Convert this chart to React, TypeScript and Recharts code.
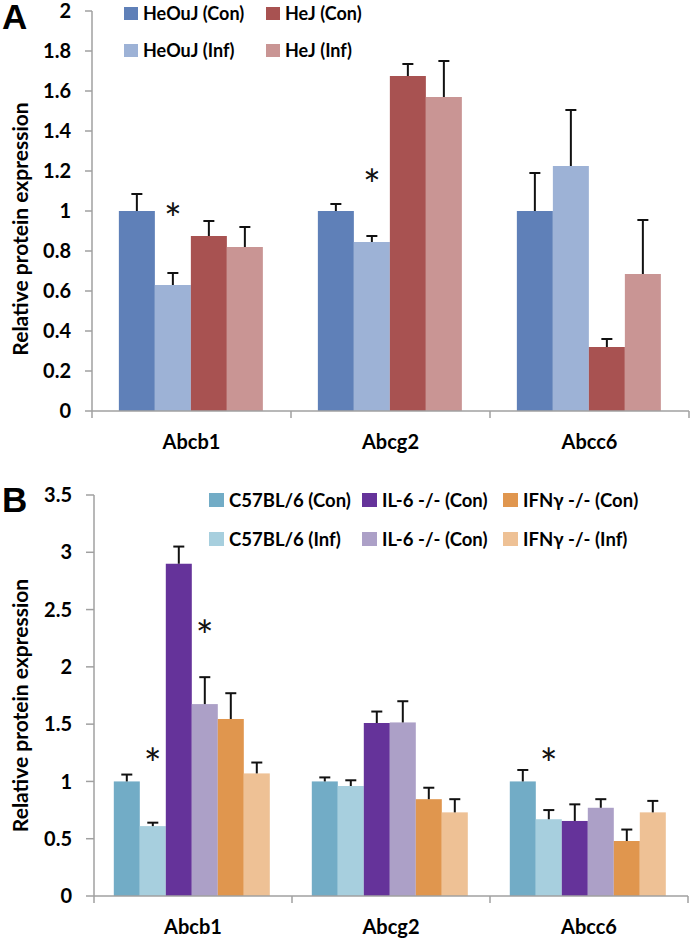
import React from 'react';
import { BarChart, Bar, XAxis, YAxis, Legend } from 'recharts';

const FONT = 'Lato, "Open Sans", sans-serif';
const AXIS = '#A0A0A0';

const categories = ['Abcb1', 'Abcg2', 'Abcc6'];

// Panel A values (mean) and upper error (SE)
const heOuJCon = [1.0, 1.0, 1.0];
const heOuJConErr = [0.085, 0.035, 0.19];
const heOuJInf = [0.63, 0.845, 1.225];
const heOuJInfErr = [0.06, 0.03, 0.28];
const heJCon = [0.875, 1.675, 0.32];
const heJConErr = [0.075, 0.06, 0.04];
const heJInf = [0.82, 1.57, 0.685];
const heJInfErr = [0.1, 0.18, 0.27];
const starsA_heOuJInf = [1.0, 1.17, null];
const yTicksA = [0, 0.2, 0.4, 0.6, 0.8, 1, 1.2, 1.4, 1.6, 1.8, 2];
const legendOrderA = ['heOuJCon', 'heOuJInf', 'heJCon', 'heJInf'];

// Panel B values
const c57Con = [1.0, 1.0, 1.0];
const c57ConErr = [0.06, 0.035, 0.1];
const c57Inf = [0.61, 0.96, 0.67];
const c57InfErr = [0.03, 0.05, 0.08];
const il6Con = [2.9, 1.51, 0.655];
const il6ConErr = [0.15, 0.1, 0.145];
const il6Con2 = [1.675, 1.515, 0.77];
const il6Con2Err = [0.235, 0.185, 0.075];
const ifnCon = [1.545, 0.845, 0.48];
const ifnConErr = [0.225, 0.1, 0.1];
const ifnInf = [1.07, 0.73, 0.73];
const ifnInfErr = [0.095, 0.115, 0.1];
const starsB_c57Inf = [1.22, null, 1.22];
const starsB_il6Con2 = [2.34, null, null];
const yTicksB = [0, 0.5, 1, 1.5, 2, 2.5, 3, 3.5];
const legendOrderB = ['c57Con', 'c57Inf', 'il6Con', 'il6Con2', 'ifnCon', 'ifnInf'];

const dataA = categories.map((name, i) => ({
  name,
  heOuJCon: heOuJCon[i], heOuJConErr: heOuJConErr[i],
  heOuJInf: heOuJInf[i], heOuJInfErr: heOuJInfErr[i], heOuJInfStar: starsA_heOuJInf[i],
  heJCon: heJCon[i], heJConErr: heJConErr[i],
  heJInf: heJInf[i], heJInfErr: heJInfErr[i],
}));

const dataB = categories.map((name, i) => ({
  name,
  c57Con: c57Con[i], c57ConErr: c57ConErr[i],
  c57Inf: c57Inf[i], c57InfErr: c57InfErr[i], c57InfStar: starsB_c57Inf[i],
  il6Con: il6Con[i], il6ConErr: il6ConErr[i],
  il6Con2: il6Con2[i], il6Con2Err: il6Con2Err[i], il6Con2Star: starsB_il6Con2[i],
  ifnCon: ifnCon[i], ifnConErr: ifnConErr[i],
  ifnInf: ifnInf[i], ifnInfErr: ifnInfErr[i],
}));

const makeShape = (key: string) => (props: any) => {
  const { x, y, width, height, fill, payload } = props;
  const v = payload[key];
  const k = v ? height / v : 0;
  const cx = x + width / 2;
  const err = payload[key + 'Err'];
  const yErr = y - err * k;
  const base = y + height;
  const star = payload[key + 'Star'];
  return (
    <g>
      <rect x={x} y={y} width={width} height={height} fill={fill} />
      {err > 0 && (
        <g>
          <line x1={cx} x2={cx} y1={y} y2={yErr} stroke="#111" strokeWidth={2} />
          <line x1={cx - 5.5} x2={cx + 5.5} y1={yErr} y2={yErr} stroke="#111" strokeWidth={2} />
        </g>
      )}
      {star != null && (
        <text x={cx} y={base - star * k + 23} textAnchor="middle" fontSize={42} fontFamily={FONT} fill="#111">*</text>
      )}
    </g>
  );
};

const XTick = (props: any) => {
  const { x, y, payload, width, visibleTicksCount, index } = props;
  const band = (width || 598) / (visibleTicksCount || 3);
  const axisY = y - 24;
  const left = x - band / 2;
  const right = x + band / 2;
  return (
    <g>
      <line x1={left} x2={left} y1={axisY} y2={axisY + 7} stroke={AXIS} strokeWidth={1.5} />
      {index === (visibleTicksCount || 3) - 1 && (
        <line x1={right} x2={right} y1={axisY} y2={axisY + 7} stroke={AXIS} strokeWidth={1.5} />
      )}
      <text x={x} y={y} dy="0.68em" textAnchor="middle" fontSize={20} fontWeight={700} fontFamily={FONT} fill="#000">
        {payload.value}
      </text>
    </g>
  );
};

const YLabel = (yShift: number) => (props: any) => {
  const vb = props.viewBox || {};
  const cx = 19;
  const cy = vb.y + vb.height / 2 + yShift;
  return (
    <text x={cx} y={cy} transform={`rotate(-90, ${cx}, ${cy})`} textAnchor="middle" dominantBaseline="central"
      fontSize={21} fontWeight={700} fontFamily={FONT} fill="#000">
      Relative protein expression
    </text>
  );
};

const makeLegend = (order: string[], cols: string, rowGap: number, sq: number, fs: number) => (props: any) => {
  const items = [...(props.payload || [])].sort(
    (a: any, b: any) => order.indexOf(String(a.dataKey)) - order.indexOf(String(b.dataKey)));
  return (
    <div style={{ display: 'grid', gridTemplateRows: '24px 24px', gridAutoFlow: 'column', gridTemplateColumns: cols, rowGap, fontFamily: FONT, fontWeight: 700, fontSize: fs, color: '#000', textAlign: 'left' }}>
      {items.map((it: any) => (
        <div key={String(it.dataKey)} style={{ display: 'flex', alignItems: 'center', whiteSpace: 'nowrap' }}>
          <span style={{ display: 'inline-block', width: sq, height: sq - 1, background: it.color, marginRight: 5 }} />
          <span>{it.value}</span>
        </div>
      ))}
    </div>
  );
};

const tickStyle = { fontSize: 20, fontWeight: 700, fontFamily: FONT, fill: '#000' };

export default function App() {
  return (
    <div style={{ position: 'absolute', left: 0, top: 0, width: 690, height: 940, background: '#fff' }}>
      <div style={{ position: 'absolute', left: 2, top: 0, fontFamily: '"Liberation Sans", Arial, sans-serif', fontWeight: 700, fontSize: 35, lineHeight: '34px' }}>A</div>
      <div style={{ position: 'absolute', left: 2, top: 483, fontFamily: '"Liberation Sans", Arial, sans-serif', fontWeight: 700, fontSize: 35, lineHeight: '34px' }}>B</div>

      <div style={{ position: 'absolute', left: 0, top: 0 }}>
        <BarChart width={690} height={470} data={dataA} margin={{ top: 11, right: 1, left: 0, bottom: 19 }}
          barCategoryGap="13.5%" barGap={0}>
          <XAxis dataKey="name" height={40} axisLine={{ stroke: AXIS, strokeWidth: 1.5 }} tickLine={false}
            tickSize={7} tickMargin={17} tick={<XTick />} interval={0} />
          <YAxis width={92} domain={[0, 2]} ticks={yTicksA} interval={0} axisLine={{ stroke: AXIS, strokeWidth: 1.5 }}
            tickLine={{ stroke: AXIS, strokeWidth: 1.5 }} tickSize={7} tickMargin={14} tick={tickStyle}
            label={{ content: YLabel(18) as any }} />
          <Legend layout="horizontal" verticalAlign="middle" align="center"
            content={makeLegend(legendOrderA, '142px auto', 13, 14, 18) as any}
            wrapperStyle={{ left: 124, top: 1, width: 400 }} />
          <Bar dataKey="heOuJCon" name="HeOuJ (Con)" fill="#5F80B8" isAnimationActive={false} shape={makeShape('heOuJCon')} />
          <Bar dataKey="heOuJInf" name="HeOuJ (Inf)" fill="#9DB2D6" isAnimationActive={false} shape={makeShape('heOuJInf')} />
          <Bar dataKey="heJCon" name="HeJ (Con)" fill="#A85251" isAnimationActive={false} shape={makeShape('heJCon')} />
          <Bar dataKey="heJInf" name="HeJ (Inf)" fill="#C99594" isAnimationActive={false} shape={makeShape('heJInf')} />
        </BarChart>
      </div>

      <div style={{ position: 'absolute', left: 0, top: 470 }}>
        <BarChart width={690} height={470} data={dataB} margin={{ top: 25, right: 2, left: 0, bottom: 4 }}
          barCategoryGap="10%" barGap={0}>
          <XAxis dataKey="name" height={40} axisLine={{ stroke: AXIS, strokeWidth: 1.5 }} tickLine={false}
            tickSize={7} tickMargin={17} tick={<XTick />} interval={0} />
          <YAxis width={94} domain={[0, 3.5]} ticks={yTicksB} interval={0} axisLine={{ stroke: AXIS, strokeWidth: 1.5 }}
            tickLine={{ stroke: AXIS, strokeWidth: 1.5 }} tickSize={8} tickMargin={14} tick={tickStyle}
            label={{ content: YLabel(10) as any }} />
          <Legend layout="horizontal" verticalAlign="middle" align="center"
            content={makeLegend(legendOrderB, '153px 141px auto', 15, 15, 18.5) as any}
            wrapperStyle={{ left: 209, top: 18, width: 480 }} />
          <Bar dataKey="c57Con" name="C57BL/6 (Con)" fill="#72ACC6" isAnimationActive={false} shape={makeShape('c57Con')} />
          <Bar dataKey="c57Inf" name="C57BL/6 (Inf)" fill="#A7CFDE" isAnimationActive={false} shape={makeShape('c57Inf')} />
          <Bar dataKey="il6Con" name="IL-6 -/- (Con)" fill="#65339A" isAnimationActive={false} shape={makeShape('il6Con')} />
          <Bar dataKey="il6Con2" name="IL-6 -/- (Con)" fill="#ACA0C7" isAnimationActive={false} shape={makeShape('il6Con2')} />
          <Bar dataKey="ifnCon" name="IFNγ -/- (Con)" fill="#E0964E" isAnimationActive={false} shape={makeShape('ifnCon')} />
          <Bar dataKey="ifnInf" name="IFNγ -/- (Inf)" fill="#EEC195" isAnimationActive={false} shape={makeShape('ifnInf')} />
        </BarChart>
      </div>
    </div>
  );
}
